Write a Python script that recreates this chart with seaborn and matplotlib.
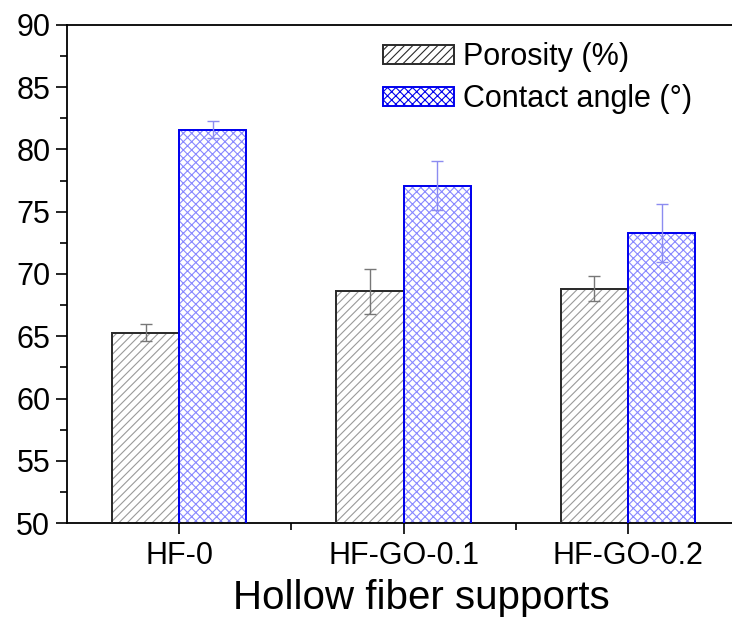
import numpy as np
import pandas as pd
import matplotlib
matplotlib.use("Agg")
import matplotlib.pyplot as plt
from matplotlib.ticker import MultipleLocator, FixedLocator
from matplotlib.patches import Rectangle
import seaborn as sns

# data
samples = ["HF-0", "HF-GO-0.1", "HF-GO-0.2"]
porosity = [65.3, 68.6, 68.8]
porosity_err = [0.7, 1.8, 1.0]
contact_angle = [81.6, 77.1, 73.3]
contact_err = [0.7, 2.0, 2.3]
series = ["Porosity (%)", "Contact angle (\u00b0)"]

df = pd.DataFrame({
    "sample": samples * 2,
    "series": [series[0]] * 3 + [series[1]] * 3,
    "value": porosity + contact_angle,
})

sns.set_theme(style="ticks")
plt.rcParams["font.family"] = ["Liberation Sans", "DejaVu Sans"]
plt.rcParams["text.color"] = "black"
plt.rcParams["hatch.linewidth"] = 0.8

fig = plt.figure(figsize=(7.32, 6.22), dpi=100)
ax = fig.add_axes([0.0915, 0.159, 0.9195, 0.801])

sns.barplot(data=df, x="sample", y="value", hue="series", order=samples,
            hue_order=series, errorbar=None, width=0.6, gap=0,
            palette=["white", "white"], ax=ax, legend=False)

styles = [
    dict(hatch="////", hatch_color="#9a9a9a", edge="#2a2a2a", err="#777777"),
    dict(hatch="xxxx", hatch_color="#8888ff", edge="#0000ee", err="#8c8cf0"),
]
errs = [porosity_err, contact_err]
vals = [porosity, contact_angle]
handles = []
for cont, st, e, v in zip(ax.containers, styles, errs, vals):
    xs = []
    for p in cont.patches:
        p.set_facecolor("white")
        p.set_hatch(st["hatch"])
        if hasattr(p, "set_hatchcolor"):
            p.set_edgecolor(st["edge"])
            p.set_hatchcolor(st["hatch_color"])
        else:
            p.set_edgecolor(st["hatch_color"])
            ax.add_patch(Rectangle(p.get_xy(), p.get_width(), p.get_height(),
                                   fill=False, edgecolor=st["edge"], lw=1.4, zorder=3))
        p.set_linewidth(1.4)
        xs.append(p.get_x() + p.get_width() / 2)
    ax.errorbar(xs, v, yerr=e, fmt="none", ecolor=st["err"], elinewidth=1.0,
                capsize=4, capthick=1.0, zorder=4)
    h = Rectangle((0, 0), 1, 1, facecolor="white", edgecolor=st["edge"],
                  hatch=st["hatch"], lw=1.4)
    if hasattr(h, "set_hatchcolor"):
        h.set_hatchcolor(st["hatch_color"])
    handles.append(h)

ax.set_ylim(50, 90)
ax.set_xlim(-0.5, 2.5)
ax.yaxis.set_major_locator(MultipleLocator(5))
ax.yaxis.set_minor_locator(MultipleLocator(2.5))
ax.xaxis.set_minor_locator(FixedLocator([0.5, 1.5]))

for s in ax.spines.values():
    s.set_color("black")
    s.set_linewidth(1.3)
    s.set_visible(True)

ax.tick_params(axis="both", which="major", direction="out", length=8, width=1.2,
               colors="black", labelsize=22)
ax.tick_params(axis="both", which="minor", direction="out", length=5, width=1.2,
               colors="black")
ax.tick_params(axis="x", pad=5)
ax.tick_params(axis="y", pad=4)

ax.set_xlabel("Hollow fiber supports", fontsize=29, color="black", labelpad=4)
ax.xaxis.set_label_coords(0.527, -0.112)
ax.set_ylabel("")

ax.legend(handles, series, loc="upper left", bbox_to_anchor=(0.452, 0.99),
          frameon=False, fontsize=22, handlelength=2.3, handleheight=0.6,
          handletextpad=0.3, labelspacing=0.4, borderaxespad=0,
          labelcolor="black")

fig.savefig("out.png", dpi=100)
